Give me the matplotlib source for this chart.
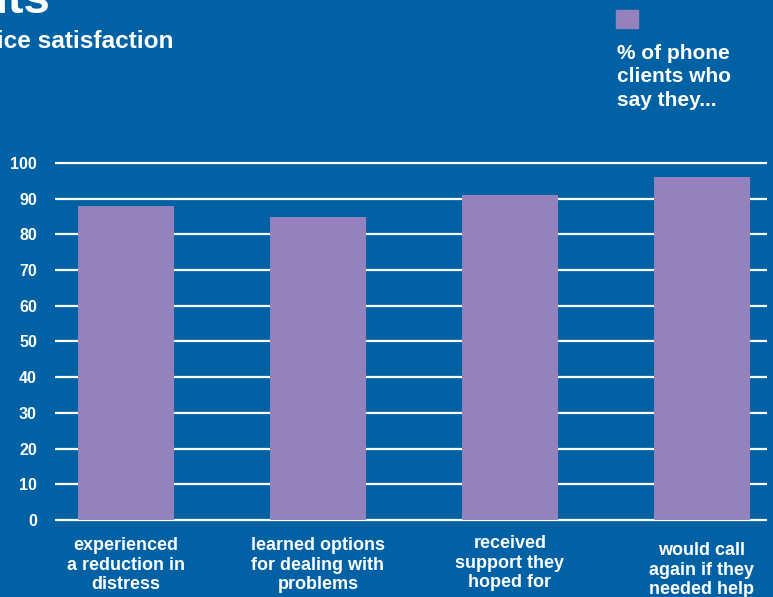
import matplotlib
matplotlib.use("Agg")
import matplotlib.pyplot as plt
from matplotlib.patches import Rectangle

plt.rcParams['font.family'] = ['Liberation Sans', 'DejaVu Sans']
plt.rcParams['font.weight'] = 'bold'

categories = ["experienced\na reduction in\ndistress",
              "learned options\nfor dealing with\nproblems",
              "received\nsupport they\nhoped for",
              "would call\nagain if they\nneeded help"]
values = [88, 85, 91, 96]
yticks = [0, 10, 20, 30, 40, 50, 60, 70, 80, 90, 100]
legend_label = "% of phone\nclients who\nsay they..."

bg = "#0062a5"
bar_color = "#9581bc"

fig = plt.figure(figsize=(7.73, 5.97), dpi=100, facecolor=bg)
ax = fig.add_axes([55/773, 0.1230, 712/773, 0.733 - 0.1230])
ax.set_facecolor(bg)

x = range(len(values))
ax.bar(x, values, width=0.5, color=bar_color, zorder=3)
ax.set_xlim(-0.37, 3.34)
ax.set_ylim(-1, 101)
ax.set_yticks(yticks)
ax.yaxis.grid(True, color="white", linewidth=1.6, zorder=1)
ax.set_axisbelow(True)
ax.set_xticks([])
ax.tick_params(axis='y', length=0, pad=13, labelsize=11.5, labelcolor="white")
for s in ax.spines.values():
    s.set_visible(False)

# category labels under the bars
drops = [12.2, 12.2, 10.8, 15.8]
for i, lab in enumerate(categories):
    ax.annotate(lab, (i, 0), xytext=(0, -drops[i]), textcoords='offset points',
                ha='center', va='top', color="white", fontsize=13,
                linespacing=1.2, annotation_clip=False)

# clipped title and subtitle
fig.text(50/773, 1 - 13/597, "Results for clients", ha='right', va='baseline',
         color="white", fontsize=34)
fig.text(173/773, 1 - 48/597, "Service satisfaction", ha='right', va='baseline',
         color="white", fontsize=17.6)

# legend
fig.patches.append(Rectangle((616/773, 1 - 28/597), 22/773, 18/597,
                             transform=fig.transFigure, color=bar_color))
fig.text(617/773, 1 - 44/597, legend_label, ha='left', va='top',
         color="white", fontsize=15, linespacing=1.3)

fig.savefig("out.png", dpi=100, facecolor=bg)
